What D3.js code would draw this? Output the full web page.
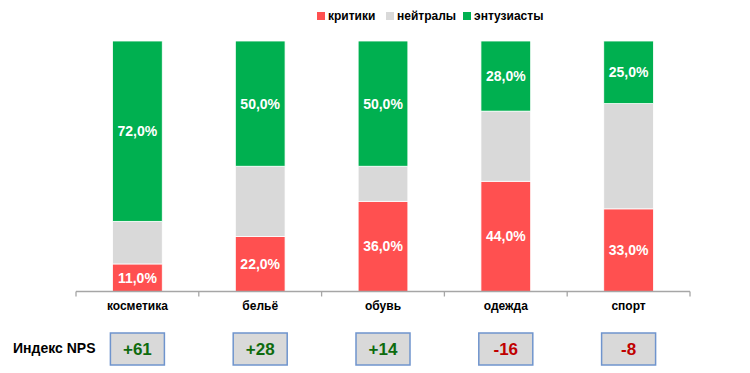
<!DOCTYPE html>
<html>
<head>
<meta charset="utf-8">
<script src="https://cdn.jsdelivr.net/npm/d3@7"></script>
<style>
  body { margin: 0; background: #fff; }
  text { font-family: "Liberation Sans", Arial, sans-serif; }
</style>
</head>
<body>
<svg></svg>
<script>
const categories = ['косметика', 'бельё', 'обувь', 'одежда', 'спорт']
const critics = [11, 22, 36, 44, 33]
const neutrals = [17, 28, 14, 28, 42]
const promoters = [72, 50, 50, 28, 25]
const seriesNames = ['критики', 'нейтралы', 'энтузиасты']
const seriesColors = ['#ff5050', '#d9d9d9', '#00b050']

const data = categories.map((c, i) => ({
  cat: c, critics: critics[i], neutrals: neutrals[i], promoters: promoters[i],
  nps: promoters[i] - critics[i]
}))

const [svgWidth, svgHeight] = [750, 373]
const svg = d3.select('svg').attr('width', svgWidth).attr('height', svgHeight)

const x = d3.scaleBand().domain(categories).range([76, 690]).paddingInner(0).paddingOuter(0)
const y = d3.scaleLinear().domain([0, 100]).range([291.5, 41])

const stack = d3.stack().keys(['critics', 'neutrals', 'promoters'])(data)
const barW = x.bandwidth() * 0.405

const layers = svg.append('g').selectAll('g').data(stack).enter().append('g')
  .style('fill', (d, i) => seriesColors[i])

layers.selectAll('rect').data(d => d).enter().append('rect')
  .attr('x', d => x(d.data.cat) + (x.bandwidth() - barW) / 2)
  .attr('width', barW)
  .attr('y', d => y(d[1]))
  .attr('height', d => y(d[0]) - y(d[1]))
  .attr('stroke', '#fff')
  .attr('stroke-width', 0.8)

// labels for critics and promoters only
stack.forEach((layer, li) => {
  if (li === 1) return
  svg.append('g').selectAll('text').data(layer).enter().append('text')
    .attr('x', d => x(d.data.cat) + x.bandwidth() / 2)
    .attr('y', d => (y(d[0]) + y(d[1])) / 2)
    .attr('dy', '0.35em')
    .attr('text-anchor', 'middle')
    .style('fill', '#fff')
    .style('font-weight', 'bold')
    .style('font-size', '14px')
    .text(d => (d[1] - d[0]).toFixed(1).replace('.', ',') + '%')
})

// axis
const xAxis = d3.axisBottom(x).tickSize(0).tickPadding(10)
const axisG = svg.append('g').attr('transform', `translate(0, ${y(0)})`).call(xAxis)
axisG.select('.domain').attr('stroke', '#a6a6a6').attr('stroke-width', 1.3)
  .attr('d', `M${x.range()[0]},0H${x.range()[1]}`)
axisG.selectAll('.tick text')
  .style('font-size', '12px').style('font-weight', 'bold').style('fill', '#000')
  .attr('font-family', null)
const bounds = categories.map(c => x(c)).concat([x.range()[1]])
axisG.selectAll('line.sep').data(bounds).enter().append('line')
  .attr('class', 'sep')
  .attr('x1', d => d).attr('x2', d => d)
  .attr('y1', 0).attr('y2', 5)
  .attr('stroke', '#a6a6a6').attr('stroke-width', 1.3)

// legend
const legendX = [317, 386, 463]
const legend = svg.append('g').selectAll('g').data(seriesNames).enter().append('g')
  .attr('transform', (d, i) => `translate(${legendX[i]}, 12)`)
legend.append('rect').attr('width', 8).attr('height', 8).style('fill', (d, i) => seriesColors[i])
legend.append('text').attr('x', 11).attr('y', 4).attr('dy', '0.35em')
  .style('font-size', '12px').style('font-weight', 'bold').text(d => d)

// NPS row
svg.append('text').attr('x', 13).attr('y', 348).attr('dy', '0.35em')
  .style('font-size', '14px').style('font-weight', 'bold').text('Индекс NPS')

const npsG = svg.append('g').selectAll('g').data(data).enter().append('g')
  .attr('transform', d => `translate(${x(d.cat) + x.bandwidth() / 2 - 27}, 333)`)
npsG.append('rect').attr('width', 54).attr('height', 32)
  .style('fill', '#d9d9d9').attr('stroke', '#6f94cd').attr('stroke-width', 1.5)
npsG.append('text').attr('x', 27).attr('y', 16).attr('dy', '0.36em')
  .attr('text-anchor', 'middle')
  .style('font-size', '17px').style('font-weight', 'bold')
  .style('fill', d => d.nps >= 0 ? '#0e6b0e' : '#c00000')
  .text(d => (d.nps >= 0 ? '+' : '') + d.nps)
</script>
</body>
</html>
